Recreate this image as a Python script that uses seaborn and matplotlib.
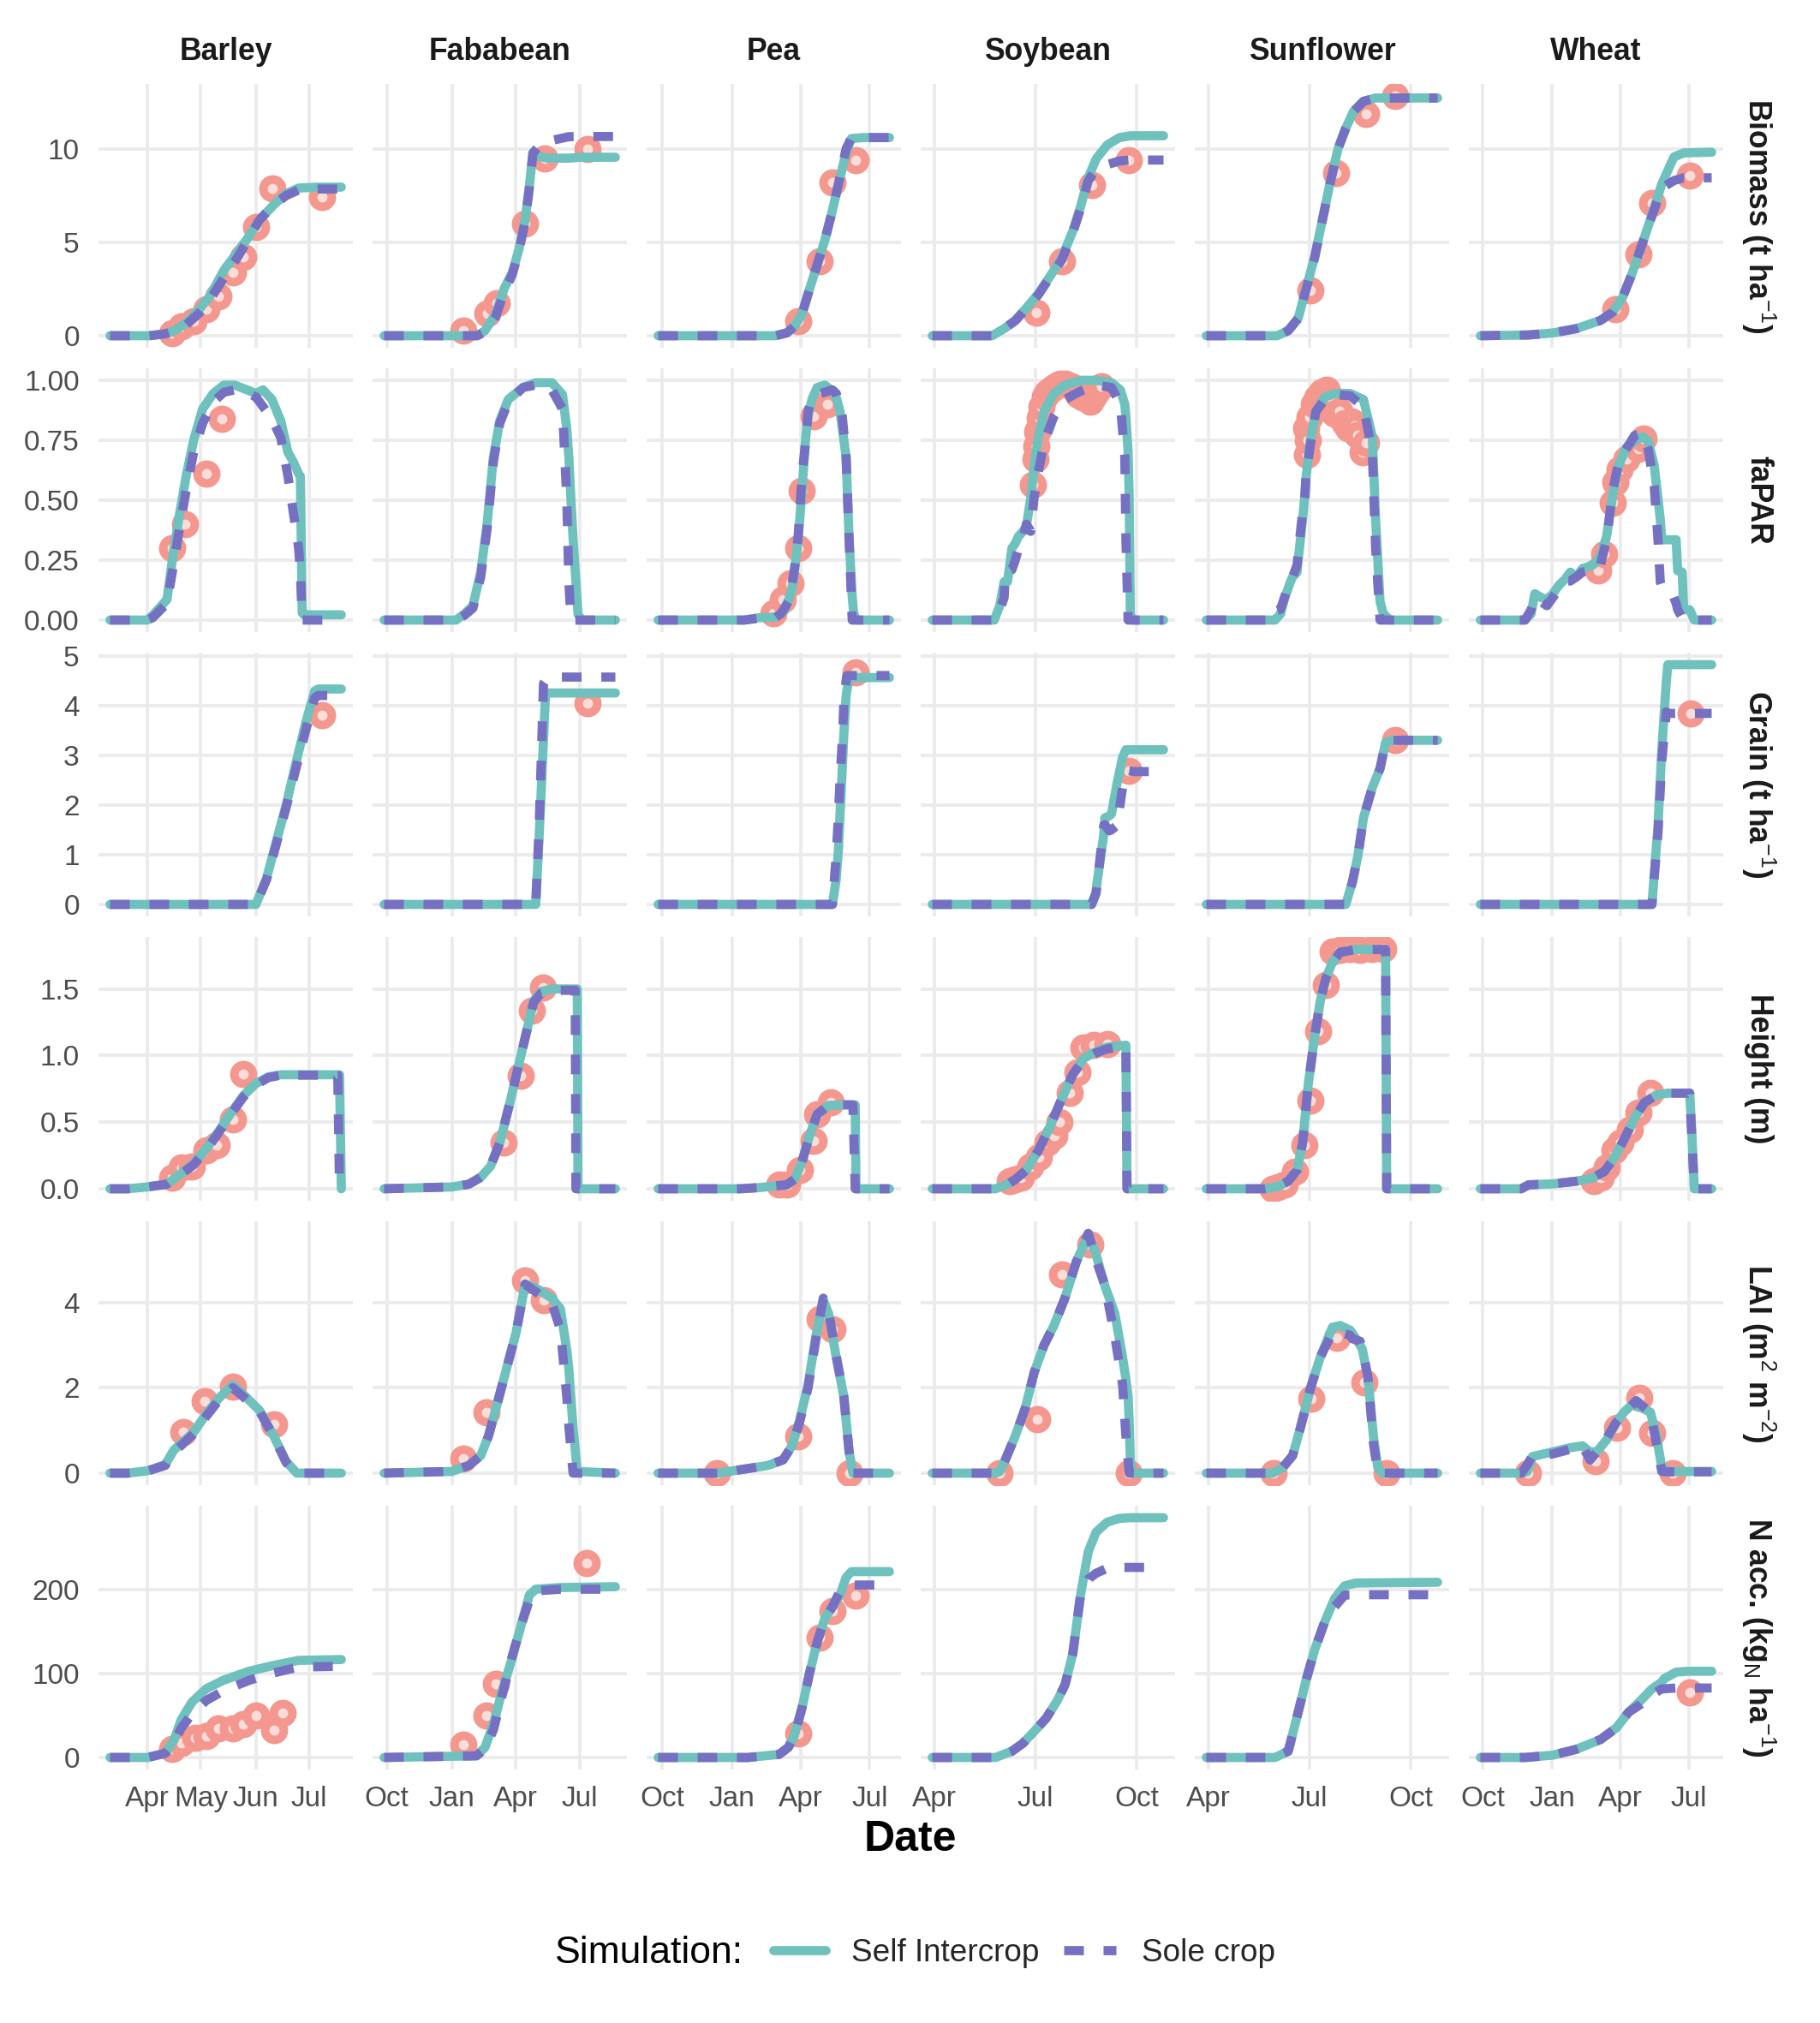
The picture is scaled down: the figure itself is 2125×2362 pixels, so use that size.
import numpy as np
import pandas as pd
import matplotlib
matplotlib.use("Agg")
import matplotlib.pyplot as plt
import matplotlib.dates as mdates
from matplotlib.lines import Line2D
import seaborn as sns

# ---- layout of the facet grid
crops = ["Barley", "Fababean", "Pea", "Soybean", "Sunflower", "Wheat"]
variables = ["biomass", "fapar", "grain", "height", "lai", "n"]
row_labels = ["Biomass (t ha$^{-1}$)", "faPAR", "Grain (t ha$^{-1}$)", "Height (m)",
              "LAI (m$^{2}$ m$^{-2}$)", "N acc. (kg$_{N}$ ha$^{-1}$)"]
sim_levels = ["Self Intercrop", "Sole crop"]

# seasons: month >= 9 belongs to the first year
season_years = {"Barley": (2017, 2017), "Fababean": (2006, 2007), "Pea": (2006, 2007),
                "Soybean": (2010, 2010), "Sunflower": (2010, 2010), "Wheat": (2006, 2007)}

# x ticks per column
barley_ticks = ["04-01", "05-01", "06-01", "07-01"]
fababean_ticks = ["10-01", "01-01", "04-01", "07-01"]
pea_ticks = ["10-01", "01-01", "04-01", "07-01"]
soybean_ticks = ["04-01", "07-01", "10-01"]
sunflower_ticks = ["04-01", "07-01", "10-01"]
wheat_ticks = ["10-01", "01-01", "04-01", "07-01"]

# y ticks per row
biomass_yticks = [0, 5, 10]
biomass_ylabels = ["0", "5", "10"]
fapar_yticks = [0, 0.25, 0.5, 0.75, 1.0]
fapar_ylabels = ["0.00", "0.25", "0.50", "0.75", "1.00"]
grain_yticks = [0, 1, 2, 3, 4, 5]
grain_ylabels = ["0", "1", "2", "3", "4", "5"]
height_yticks = [0, 0.5, 1.0, 1.5]
height_ylabels = ["0.0", "0.5", "1.0", "1.5"]
lai_yticks = [0, 2, 4]
lai_ylabels = ["0", "2", "4"]
n_yticks = [0, 100, 200]
n_ylabels = ["0", "100", "200"]

# ================= Barley =================
barley_biomass_dates = ["03-11", "04-02", "04-11", "04-16", "04-23", "04-30", "05-06", "05-14", "05-21", "05-28", "06-03", "06-11", "06-18", "06-25", "07-05", "07-19"]
barley_biomass_int = [0, 0, 0.1, 0.27, 0.7, 1.4, 2.1, 3.5, 4.4, 5.3, 6.2, 7.0, 7.6, 7.9, 7.95, 7.95]
barley_biomass_sole = [0, 0, 0.1, 0.25, 0.6, 1.2, 1.9, 3.1, 4.1, 5.2, 6.2, 7.0, 7.5, 7.8, 7.85, 7.85]
barley_biomass_obs_dates = ["04-15", "04-20", "04-27", "05-04", "05-11", "05-19", "05-25", "06-01", "06-10", "07-08"]
barley_biomass_obs = [0.15, 0.5, 0.8, 1.4, 2.1, 3.4, 4.2, 5.8, 7.9, 7.4]

barley_fapar_dates = ["03-11", "04-01", "04-04", "04-12", "04-15", "04-19", "04-23", "04-27", "05-02", "05-08", "05-14", "05-20", "05-27", "06-01", "06-05", "06-10", "06-15", "06-19", "06-22", "06-25", "06-26", "06-27", "06-28", "07-19"]
barley_fapar_int = [0, 0, 0.02, 0.086, 0.25, 0.44, 0.61, 0.75, 0.88, 0.945, 0.98, 0.98, 0.96, 0.945, 0.96, 0.92, 0.83, 0.70, 0.66, 0.61, 0.6, 0.03, 0.022, 0.022]
barley_fapar_sole = [0, 0, 0.01, 0.07, 0.2, 0.38, 0.55, 0.70, 0.82, 0.91, 0.95, 0.96, 0.95, 0.93, 0.89, 0.84, 0.76, 0.6, 0.45, 0.3, 0.2, 0, 0, 0]
barley_fapar_obs_dates = ["04-15", "04-22", "05-04", "05-13"]
barley_fapar_obs = [0.30, 0.40, 0.61, 0.84]

barley_grain_dates = ["03-11", "06-01", "06-07", "06-12", "06-18", "06-23", "06-29", "07-04", "07-06", "07-19"]
barley_grain_int = [0, 0, 0.53, 1.2, 2.0, 2.77, 3.65, 4.29, 4.33, 4.33]
barley_grain_sole = [0, 0, 0.5, 1.15, 1.95, 2.66, 3.5, 4.15, 4.2, 4.2]
barley_grain_obs_dates = ["07-08"]
barley_grain_obs = [3.8]

barley_height_dates = ["03-11", "03-21", "04-01", "04-12", "04-20", "04-27", "05-04", "05-11", "05-18", "05-25", "06-01", "06-08", "06-15", "07-17", "07-18", "07-19"]
barley_height_int = [0, 0, 0.014, 0.035, 0.115, 0.19, 0.30, 0.43, 0.57, 0.70, 0.79, 0.84, 0.856, 0.856, 0.856, 0]
barley_height_sole = [0, 0, 0.014, 0.035, 0.11, 0.18, 0.29, 0.42, 0.56, 0.69, 0.78, 0.835, 0.853, 0.853, 0, 0]
barley_height_obs_dates = ["04-15", "04-20", "04-26", "05-04", "05-10", "05-19", "05-25"]
barley_height_obs = [0.086, 0.16, 0.17, 0.29, 0.33, 0.52, 0.86]

barley_lai_dates = ["03-11", "03-21", "04-01", "04-11", "04-16", "04-20", "04-27", "05-04", "05-11", "05-19", "05-26", "06-03", "06-11", "06-18", "06-24", "07-19"]
barley_lai_int = [0, 0, 0.055, 0.2, 0.55, 0.69, 0.96, 1.38, 1.75, 2.07, 1.8, 1.47, 0.87, 0.27, 0, 0]
barley_lai_sole = [0, 0, 0.05, 0.18, 0.5, 0.65, 0.92, 1.33, 1.7, 2.0, 1.75, 1.45, 0.85, 0.25, 0, 0]
barley_lai_obs_dates = ["04-21", "05-03", "05-19", "06-11"]
barley_lai_obs = [0.96, 1.68, 2.03, 1.15]

barley_n_dates = ["03-11", "04-01", "04-11", "04-16", "04-20", "04-26", "05-04", "05-14", "05-28", "06-11", "06-25", "07-19"]
barley_n_int = [0, 0, 5, 21, 45, 66, 82, 92.5, 103, 110, 116, 117]
barley_n_sole = [0, 0, 5, 18, 35, 52, 68, 80, 92, 101, 108, 109]
barley_n_obs_dates = ["04-15", "04-20", "04-28", "05-04", "05-11", "05-19", "05-25", "06-01", "06-11", "06-16"]
barley_n_obs = [10, 17, 24, 26, 35, 35, 40, 50, 33, 53]

# ================= Fababean =================
fababean_biomass_dates = ["09-27", "02-06", "02-17", "03-04", "03-16", "03-28", "04-06", "04-15", "04-21", "04-26", "05-03", "05-17", "06-16", "07-04", "08-21"]
fababean_biomass_int = [0, 0, 0.27, 1.15, 2.5, 3.4, 4.6, 6.2, 8.0, 9.8, 9.6, 9.5, 9.5, 9.55, 9.55]
fababean_biomass_sole = [0, 0, 0.2, 1.0, 2.3, 3.3, 4.5, 6.1, 7.9, 9.75, 10.1, 10.4, 10.65, 10.66, 10.66]
fababean_biomass_obs_dates = ["01-17", "02-20", "03-06", "04-15", "05-13", "07-13"]
fababean_biomass_obs = [0.27, 1.2, 1.75, 6.0, 9.5, 10.0]

fababean_fapar_dates = ["09-27", "01-07", "01-19", "01-31", "02-11", "02-20", "03-01", "03-10", "03-22", "04-12", "04-30", "05-23", "06-07", "06-13", "06-16", "06-19", "06-22", "06-29", "07-04", "08-21"]
fababean_fapar_int = [0, 0, 0.026, 0.06, 0.2, 0.4, 0.68, 0.83, 0.92, 0.97, 0.99, 0.99, 0.94, 0.8, 0.68, 0.5, 0.34, 0.025, 0, 0]
fababean_fapar_sole = [0, 0, 0.02, 0.05, 0.18, 0.38, 0.66, 0.82, 0.91, 0.97, 0.98, 0.96, 0.88, 0.51, 0.16, 0, 0, 0, 0, 0]
fababean_fapar_obs_dates = []
fababean_fapar_obs = []

fababean_grain_dates = ["09-27", "04-30", "05-05", "05-08", "05-11", "05-14", "05-20", "08-21"]
fababean_grain_int = [0, 0, 1.4, 2.35, 3.3, 4.25, 4.25, 4.25]
fababean_grain_sole = [0, 0, 1.6, 3.0, 4.44, 4.5, 4.57, 4.57]
fababean_grain_obs_dates = ["07-13"]
fababean_grain_obs = [4.04]

fababean_height_dates = ["09-27", "01-01", "01-25", "02-11", "02-25", "03-10", "03-25", "04-09", "04-18", "04-27", "05-08", "05-23", "06-25", "06-26", "06-28", "06-29", "08-21"]
fababean_height_int = [0, 0.014, 0.034, 0.086, 0.17, 0.345, 0.66, 1.0, 1.2, 1.41, 1.48, 1.5, 1.5, 1.5, 1.5, 0, 0]
fababean_height_sole = [0, 0.014, 0.034, 0.086, 0.17, 0.345, 0.66, 1.0, 1.2, 1.4, 1.47, 1.49, 1.49, 0, 0, 0, 0]
fababean_height_obs_dates = ["03-15", "04-09", "04-25", "05-10"]
fababean_height_obs = [0.345, 0.85, 1.34, 1.51]

fababean_lai_dates = ["09-27", "01-01", "01-25", "02-11", "02-22", "03-06", "03-18", "04-02", "04-15", "04-30", "05-23", "06-04", "06-13", "06-16", "06-22", "06-28", "08-21"]
fababean_lai_int = [0, 0.04, 0.18, 0.41, 0.87, 1.6, 2.35, 3.28, 4.43, 4.34, 4.1, 3.85, 2.9, 2.44, 1.06, 0.04, 0]
fababean_lai_sole = [0, 0.04, 0.18, 0.41, 0.87, 1.6, 2.35, 3.28, 4.43, 4.25, 3.97, 3.37, 1.8, 1.1, 0, 0, 0]
fababean_lai_obs_dates = ["01-17", "02-19", "04-15", "05-11"]
fababean_lai_obs = [0.34, 1.42, 4.51, 4.06]

fababean_n_dates = ["09-27", "02-05", "02-17", "03-01", "03-13", "03-28", "04-09", "04-21", "04-30", "06-04", "08-21"]
fababean_n_int = [0, 2, 12, 40, 78, 120, 157, 194, 201, 203, 204]
fababean_n_sole = [0, 2, 10, 33, 73, 122, 157, 188, 199, 201, 201]
fababean_n_obs_dates = ["01-17", "02-19", "03-05", "07-11"]
fababean_n_obs = [15.4, 50, 88, 232]

# ================= Pea =================
pea_biomass_dates = ["09-26", "02-27", "03-14", "03-24", "04-03", "04-13", "04-23", "05-03", "05-13", "05-23", "05-31", "06-07", "06-22", "07-27"]
pea_biomass_int = [0, 0, 0.15, 0.5, 1.15, 2.5, 3.8, 5.1, 6.7, 8.45, 9.8, 10.55, 10.6, 10.6]
pea_biomass_sole = [0, 0, 0.15, 0.5, 1.15, 2.5, 3.8, 5.1, 6.7, 8.5, 10.0, 10.6, 10.6, 10.6]
pea_biomass_obs_dates = ["03-29", "04-26", "05-13", "06-12"]
pea_biomass_obs = [0.8, 4.0, 8.2, 9.4]

pea_fapar_dates = ["09-26", "01-17", "02-06", "02-27", "03-06", "03-11", "03-16", "03-21", "03-24", "03-29", "04-03", "04-08", "04-11", "04-16", "04-23", "05-03", "05-13", "05-18", "05-23", "05-26", "05-31", "06-04", "06-08", "06-10", "06-14", "07-27"]
pea_fapar_int = [0, 0, 0.01, 0.012, 0.025, 0.04, 0.08, 0.13, 0.2, 0.335, 0.54, 0.765, 0.85, 0.92, 0.97, 0.98, 0.955, 0.93, 0.87, 0.8, 0.68, 0.335, 0.1, 0.026, 0, 0]
pea_fapar_sole = [0, 0, 0.008, 0.01, 0.026, 0.05, 0.077, 0.15, 0.21, 0.35, 0.6, 0.75, 0.87, 0.93, 0.94, 0.95, 0.96, 0.945, 0.9, 0.85, 0.68, 0.335, 0, 0, 0, 0]
pea_fapar_obs_dates = ["02-24", "03-09", "03-19", "03-29", "04-03", "04-18", "05-06"]
pea_fapar_obs = [0.03, 0.086, 0.155, 0.30, 0.54, 0.85, 0.9]

pea_grain_dates = ["09-26", "05-13", "05-18", "05-21", "05-23", "05-26", "05-28", "05-31", "06-01", "06-04", "07-27"]
pea_grain_int = [0, 0, 0.5, 1.13, 1.8, 2.73, 3.4, 4.18, 4.3, 4.56, 4.56]
pea_grain_sole = [0, 0, 0.98, 1.8, 2.5, 3.3, 4.03, 4.5, 4.6, 4.6, 4.6]
pea_grain_obs_dates = ["06-12"]
pea_grain_obs = [4.67]

pea_height_dates = ["09-26", "01-12", "02-06", "03-14", "03-24", "04-03", "04-13", "04-23", "05-08", "05-26", "06-09", "06-12", "06-13", "07-27"]
pea_height_int = [0, 0, 0.009, 0.03, 0.07, 0.2, 0.4, 0.56, 0.626, 0.63, 0.63, 0.63, 0, 0]
pea_height_sole = [0, 0, 0.009, 0.03, 0.07, 0.2, 0.4, 0.56, 0.626, 0.63, 0.63, 0, 0, 0]
pea_height_obs_dates = ["03-04", "03-14", "03-31", "04-18", "04-23", "05-11"]
pea_height_obs = [0.03, 0.03, 0.14, 0.36, 0.56, 0.65]

pea_lai_dates = ["09-26", "12-13", "01-12", "02-17", "03-09", "03-21", "03-31", "04-11", "04-21", "05-01", "05-08", "05-18", "05-28", "06-04", "06-09", "07-27"]
pea_lai_int = [0, 0, 0.08, 0.18, 0.31, 0.64, 1.24, 2.07, 3.18, 4.06, 3.74, 2.72, 1.8, 0.5, 0, 0]
pea_lai_sole = [0, 0, 0.08, 0.18, 0.31, 0.64, 1.2, 2.0, 3.1, 4.1, 3.8, 2.75, 1.8, 0.5, 0, 0]
pea_lai_obs_dates = ["12-12", "03-29", "04-26", "05-13", "06-05"]
pea_lai_obs = [0, 0.87, 3.62, 3.37, 0]

pea_n_dates = ["09-26", "01-22", "03-04", "03-16", "03-24", "04-03", "04-13", "04-23", "05-03", "05-13", "05-23", "05-31", "06-07", "07-27"]
pea_n_int = [0, 0, 3.7, 12, 26, 59, 101, 138, 166, 180, 194, 215, 222, 222]
pea_n_sole = [0, 0, 3.7, 12, 26, 59, 101, 138, 166, 180, 199, 205, 206, 206]
pea_n_obs_dates = ["03-29", "04-26", "05-13", "06-12"]
pea_n_obs = [28.5, 143, 175, 193]

# ================= Soybean =================
soybean_biomass_dates = ["03-30", "05-23", "06-03", "06-13", "06-23", "07-04", "07-14", "07-25", "08-04", "08-11", "08-18", "08-25", "09-04", "09-15", "09-25", "10-25"]
soybean_biomass_int = [0, 0, 0.38, 0.82, 1.48, 2.26, 3.14, 4.14, 5.6, 6.9, 8.45, 9.45, 10.2, 10.6, 10.7, 10.7]
soybean_biomass_sole = [0, 0, 0.38, 0.8, 1.45, 2.2, 3.1, 4.05, 5.5, 6.8, 8.3, 8.9, 9.15, 9.35, 9.4, 9.4]
soybean_biomass_obs_dates = ["07-02", "07-25", "08-21", "09-24"]
soybean_biomass_obs = [1.22, 4.0, 8.05, 9.4]

soybean_fapar_dates = ["03-30", "05-25", "05-30", "06-03", "06-04", "06-06", "06-10", "06-13", "06-16", "06-20", "06-23", "06-27", "06-30", "07-04", "07-09", "07-18", "07-28", "08-11", "08-25", "09-08", "09-16", "09-20", "09-21", "09-23", "09-24", "09-25", "09-27", "10-25"]
soybean_fapar_int = [0, 0, 0.06, 0.16, 0.16, 0.16, 0.3, 0.32, 0.35, 0.37, 0.39, 0.51, 0.64, 0.765, 0.87, 0.945, 0.98, 1.0, 1.0, 0.99, 0.96, 0.9, 0.85, 0.7, 0.51, 0.026, 0, 0]
soybean_fapar_sole = [0, 0, 0.04, 0.095, 0.2, 0.2, 0.21, 0.25, 0.3, 0.335, 0.4, 0.37, 0.51, 0.62, 0.74, 0.85, 0.92, 0.955, 0.98, 0.97, 0.9, 0.68, 0.335, 0, 0, 0, 0, 0]
soybean_fapar_obs_dates = ["06-29", "07-01", "07-02", "07-03", "07-04", "07-05", "07-07", "07-10", "07-12", "07-15", "07-18", "07-21", "07-24", "07-28", "08-03", "08-06", "08-09", "08-13", "08-16", "08-18", "08-20", "08-22", "08-25", "08-30"]
soybean_fapar_obs = [0.566, 0.67, 0.726, 0.785, 0.80, 0.844, 0.891, 0.933, 0.95, 0.962, 0.97, 0.98, 0.985, 0.986, 0.974, 0.96, 0.939, 0.93, 0.927, 0.92, 0.91, 0.93, 0.95, 0.974]

soybean_grain_dates = ["03-30", "08-21", "08-25", "08-26", "09-01", "09-02", "09-06", "09-08", "09-13", "09-18", "09-21", "09-23", "09-28", "10-25"]
soybean_grain_int = [0, 0, 0.25, 0.45, 1.4, 1.74, 1.78, 1.82, 2.43, 2.96, 3.11, 3.11, 3.11, 3.11]
soybean_grain_sole = [0, 0, 0.22, 0.4, 1.59, 1.6, 1.48, 1.5, 1.59, 2.35, 2.6, 2.69, 2.67, 2.67]
soybean_grain_obs_dates = ["09-24"]
soybean_grain_obs = [2.68]

soybean_height_dates = ["03-30", "05-26", "06-06", "06-13", "06-23", "07-04", "07-14", "07-25", "08-04", "08-14", "08-25", "09-04", "09-21", "09-22", "10-25"]
soybean_height_int = [0, 0, 0.034, 0.07, 0.14, 0.29, 0.46, 0.675, 0.86, 0.98, 1.03, 1.063, 1.078, 0, 0]
soybean_height_sole = [0, 0, 0.034, 0.07, 0.14, 0.29, 0.46, 0.675, 0.86, 0.97, 1.02, 1.05, 1.07, 0, 0]
soybean_height_obs_dates = ["06-08", "06-13", "06-18", "06-27", "07-04", "07-12", "07-18", "07-23", "08-01", "08-08", "08-14", "08-23", "09-04"]
soybean_height_obs = [0.057, 0.07, 0.086, 0.17, 0.24, 0.345, 0.40, 0.50, 0.72, 0.876, 1.063, 1.078, 1.086]

soybean_lai_dates = ["03-30", "05-26", "05-30", "06-04", "06-13", "06-22", "06-30", "07-09", "07-18", "07-28", "08-07", "08-18", "08-25", "09-02", "09-11", "09-18", "09-21", "09-23", "09-24", "09-25", "09-27", "10-25"]
soybean_lai_int = [0, 0, 0.04, 0.31, 0.87, 1.52, 2.35, 3.0, 3.46, 4.11, 4.94, 5.59, 5.13, 4.39, 3.74, 2.72, 2.2, 1.8, 1.2, 0.31, 0, 0]
soybean_lai_sole = [0, 0, 0.04, 0.31, 0.87, 1.52, 2.35, 3.0, 3.46, 4.11, 4.94, 5.62, 5.0, 4.4, 3.2, 2.07, 0.87, 0.3, 0, 0, 0, 0]
soybean_lai_obs_dates = ["05-30", "07-03", "07-25", "08-20", "09-24"]
soybean_lai_obs = [0, 1.27, 4.65, 5.36, 0]

soybean_n_dates = ["03-30", "05-26", "06-10", "06-20", "06-30", "07-11", "07-21", "07-28", "08-04", "08-11", "08-18", "08-25", "09-04", "09-15", "09-25", "10-25"]
soybean_n_int = [0, 0, 7.5, 17, 31, 47, 68, 87, 124, 194, 246, 269, 281, 285.5, 286.4, 286.4]
soybean_n_sole = [0, 0, 7.5, 17, 31, 47, 68, 87, 124, 194, 213, 220, 226, 227, 227, 227]
soybean_n_obs_dates = []
soybean_n_obs = []

# ================= Sunflower =================
sunflower_biomass_dates = ["03-30", "06-02", "06-12", "06-21", "06-28", "07-06", "07-13", "07-20", "07-27", "08-03", "08-10", "08-19", "08-30", "09-17", "10-25"]
sunflower_biomass_int = [0, 0, 0.27, 0.93, 2.48, 4.25, 6.24, 8.23, 10.0, 11.1, 12.0, 12.54, 12.72, 12.72, 12.72]
sunflower_biomass_sole = [0, 0, 0.27, 0.93, 2.45, 4.2, 6.2, 8.2, 10.0, 11.1, 12.0, 12.54, 12.72, 12.72, 12.72]
sunflower_biomass_obs_dates = ["07-02", "07-25", "08-21", "09-17"]
sunflower_biomass_obs = [2.41, 8.72, 11.88, 12.83]

sunflower_fapar_dates = ["03-30", "05-31", "06-02", "06-05", "06-09", "06-11", "06-14", "06-16", "06-20", "06-21", "06-25", "06-27", "06-28", "07-02", "07-07", "07-15", "07-25", "08-07", "08-19", "08-27", "08-30", "09-03", "09-06", "09-12", "10-25"]
sunflower_fapar_int = [0, 0, 0.01, 0.026, 0.095, 0.12, 0.16, 0.18, 0.2, 0.25, 0.42, 0.52, 0.59, 0.75, 0.87, 0.93, 0.945, 0.945, 0.92, 0.765, 0.42, 0.077, 0.026, 0, 0]
sunflower_fapar_sole = [0, 0, 0.04, 0.045, 0.1, 0.13, 0.16, 0.18, 0.23, 0.28, 0.45, 0.51, 0.6, 0.73, 0.87, 0.92, 0.94, 0.935, 0.89, 0.7, 0.3, 0, 0, 0, 0]
sunflower_fapar_obs_dates = ["06-28", "06-29", "06-30", "07-01", "07-05", "07-08", "07-12", "07-17", "07-21", "07-24", "07-28", "08-02", "08-05", "08-08", "08-11", "08-14", "08-18", "08-21"]
sunflower_fapar_obs = [0.80, 0.69, 0.75, 0.845, 0.90, 0.93, 0.95, 0.96, 0.93, 0.86, 0.87, 0.82, 0.80, 0.83, 0.81, 0.77, 0.70, 0.74]

sunflower_grain_dates = ["03-30", "08-03", "08-09", "08-14", "08-19", "08-27", "09-03", "09-08", "09-14", "10-25"]
sunflower_grain_int = [0, 0, 0.45, 0.98, 1.74, 2.35, 2.73, 3.26, 3.3, 3.3]
sunflower_grain_sole = [0, 0, 0.45, 0.98, 1.74, 2.35, 2.73, 3.26, 3.3, 3.3]
sunflower_grain_obs_dates = ["09-17"]
sunflower_grain_obs = [3.3]

sunflower_height_dates = ["03-30", "05-22", "06-02", "06-12", "06-20", "06-25", "06-30", "07-06", "07-11", "07-16", "07-22", "07-29", "08-12", "09-08", "09-09", "10-25"]
sunflower_height_int = [0, 0, 0.014, 0.057, 0.14, 0.345, 0.776, 1.15, 1.41, 1.58, 1.70, 1.776, 1.796, 1.796, 0, 0]
sunflower_height_sole = [0, 0, 0.014, 0.057, 0.14, 0.345, 0.776, 1.15, 1.41, 1.58, 1.70, 1.776, 1.796, 1.796, 0, 0]
sunflower_height_obs_dates = ["05-29", "06-03", "06-09", "06-18", "06-27", "07-02", "07-09", "07-16", "07-22", "07-29", "08-07", "08-16", "08-27", "09-06"]
sunflower_height_obs = [0, 0.014, 0.03, 0.13, 0.33, 0.66, 1.18, 1.53, 1.78, 1.796, 1.8, 1.796, 1.8, 1.8]

sunflower_lai_dates = ["03-30", "05-29", "06-07", "06-16", "06-23", "07-02", "07-11", "07-22", "07-29", "08-07", "08-09", "08-16", "08-18", "08-23", "08-28", "09-01", "09-05", "10-25"]
sunflower_lai_int = [0, 0, 0.13, 0.41, 1.06, 1.98, 2.72, 3.42, 3.46, 3.35, 3.28, 3.0, 2.9, 2.26, 0.87, 0.13, 0, 0]
sunflower_lai_sole = [0, 0, 0.13, 0.41, 1.06, 1.98, 2.72, 3.3, 3.3, 3.23, 3.15, 3.09, 2.9, 2.26, 0.7, 0, 0, 0]
sunflower_lai_obs_dates = ["05-30", "07-03", "07-26", "08-20", "09-09"]
sunflower_lai_obs = [0, 1.75, 3.17, 2.12, 0]

sunflower_n_dates = ["03-30", "05-31", "06-12", "06-21", "06-28", "07-06", "07-15", "07-24", "08-02", "08-12", "10-25"]
sunflower_n_int = [0, 0, 7.5, 54, 91.6, 129, 162, 190, 205, 208.4, 209.3]
sunflower_n_sole = [0, 0, 7.5, 54, 91.6, 129, 162, 180, 194, 194.4, 194.4]
sunflower_n_obs_dates = []
sunflower_n_obs = []

# ================= Wheat =================
wheat_biomass_dates = ["09-28", "12-01", "01-02", "02-02", "03-06", "03-22", "04-04", "04-17", "04-30", "05-13", "05-26", "06-11", "06-24", "07-31"]
wheat_biomass_int = [0, 0.04, 0.15, 0.38, 0.82, 1.26, 2.04, 3.36, 4.9, 6.46, 8.12, 9.56, 9.78, 9.82]
wheat_biomass_sole = [0, 0.04, 0.15, 0.38, 0.82, 1.26, 2.04, 3.36, 4.9, 6.4, 7.9, 8.3, 8.45, 8.45]
wheat_biomass_obs_dates = ["03-26", "04-25", "05-13", "07-02"]
wheat_biomass_obs = [1.42, 4.36, 7.12, 8.56]

wheat_fapar_dates = ["09-28", "11-26", "12-04", "12-09", "12-17", "12-25", "01-02", "01-10", "01-18", "01-25", "02-02", "02-10", "02-18", "02-25", "03-06", "03-14", "03-22", "03-30", "04-09", "04-20", "04-30", "05-08", "05-16", "05-21", "05-24", "05-26", "05-29", "06-09", "06-14", "06-16", "06-22", "06-24", "07-02", "07-08", "07-31"]
wheat_fapar_int = [0, 0, 0.026, 0.11, 0.095, 0.086, 0.11, 0.146, 0.17, 0.2, 0.18, 0.215, 0.223, 0.232, 0.266, 0.35, 0.52, 0.644, 0.72, 0.747, 0.765, 0.747, 0.644, 0.507, 0.42, 0.335, 0.335, 0.335, 0.335, 0.206, 0.2, 0.043, 0.043, 0, 0]
wheat_fapar_sole = [0, 0, 0.043, 0.095, 0.077, 0.06, 0.095, 0.13, 0.163, 0.163, 0.18, 0.2, 0.206, 0.2, 0.232, 0.335, 0.54, 0.66, 0.713, 0.77, 0.78, 0.713, 0.558, 0.335, 0.16, 0.14, 0.13, 0.11, 0.07, 0.043, 0.01, 0, 0, 0, 0]
wheat_fapar_obs_dates = ["03-03", "03-11", "03-22", "03-26", "03-31", "04-09", "04-25", "05-02"]
wheat_fapar_obs = [0.206, 0.275, 0.49, 0.576, 0.627, 0.67, 0.713, 0.756]

wheat_grain_dates = ["09-28", "05-13", "05-21", "05-26", "06-01", "06-03", "06-06", "07-31"]
wheat_grain_int = [0, 0, 1.59, 3.11, 4.48, 4.82, 4.82, 4.82]
wheat_grain_sole = [0, 0, 1.44, 2.88, 3.87, 3.84, 3.84, 3.84]
wheat_grain_obs_dates = ["07-03"]
wheat_grain_obs = [3.84]

wheat_height_dates = ["09-28", "11-21", "12-01", "01-02", "02-02", "02-23", "03-11", "03-24", "04-06", "04-20", "05-03", "05-19", "06-03", "07-02", "07-05", "07-08", "07-31"]
wheat_height_int = [0, 0, 0.03, 0.037, 0.057, 0.08, 0.13, 0.23, 0.37, 0.53, 0.647, 0.704, 0.718, 0.718, 0.4, 0, 0]
wheat_height_sole = [0, 0, 0.03, 0.037, 0.057, 0.08, 0.13, 0.23, 0.37, 0.53, 0.647, 0.704, 0.718, 0.718, 0.35, 0, 0]
wheat_height_obs_dates = ["02-25", "03-06", "03-14", "03-24", "04-01", "04-14", "04-25", "05-11"]
wheat_height_obs = [0.057, 0.086, 0.158, 0.287, 0.345, 0.445, 0.575, 0.718]

wheat_lai_dates = ["09-28", "11-21", "11-29", "12-06", "01-02", "01-23", "02-10", "02-20", "03-01", "03-14", "03-27", "04-06", "04-17", "04-22", "04-30", "05-11", "05-19", "05-26", "06-03", "06-09", "07-31"]
wheat_lai_int = [0, 0, 0.04, 0.39, 0.5, 0.59, 0.64, 0.5, 0.5, 0.78, 1.19, 1.43, 1.61, 1.58, 1.52, 1.43, 0.87, 0.13, 0.04, 0.04, 0.04]
wheat_lai_sole = [0, 0, 0.2, 0.41, 0.45, 0.55, 0.64, 0.31, 0.5, 0.82, 1.2, 1.4, 1.6, 1.7, 1.58, 1.43, 0.69, 0.04, 0.03, 0.03, 0.03]
wheat_lai_obs_dates = ["11-30", "02-27", "03-28", "04-26", "05-13", "06-10"]
wheat_lai_obs = [0, 0.29, 1.07, 1.77, 0.94, 0]

wheat_n_dates = ["09-28", "11-26", "01-02", "02-02", "03-06", "03-27", "04-12", "04-28", "05-13", "05-26", "05-29", "06-14", "06-30", "07-31"]
wheat_n_int = [0, 0, 2.8, 9.8, 21.5, 35.5, 54, 68, 82, 90, 94, 102, 103, 103]
wheat_n_sole = [0, 0, 2.8, 9.8, 21.5, 35.5, 54, 63.5, 75, 82, 82, 83, 83, 83]
wheat_n_obs_dates = ["07-02"]
wheat_n_obs = [77.6]

# ---- colours
teal = "#6FC1BE"
purple = "#7570C2"
obs_edge = "#F4978E"
obs_face = "#FADCD8"
pal = {"Self Intercrop": teal, "Sole crop": purple}
dash_map = {"Self Intercrop": "", "Sole crop": (2.15, 2.15)}
line_w = 3.85


def to_dates(crop, mmdd):
    y0, y1 = season_years[crop]
    return pd.to_datetime([f"{y0 if int(s[:2]) >= 9 else y1}-{s}" for s in mmdd])


sns.set_theme(style="white")
plt.rcParams["font.family"] = ["Liberation Sans", "DejaVu Sans"]
plt.rcParams["mathtext.fontset"] = "custom"
plt.rcParams["mathtext.rm"] = "Liberation Sans"
plt.rcParams["mathtext.it"] = "Liberation Sans:italic"
plt.rcParams["mathtext.bf"] = "Liberation Sans:bold"
plt.rcParams["mathtext.default"] = "rm"

fig, axes = plt.subplots(6, 6, figsize=(2125 / 200, 2362 / 200), dpi=200,
                         sharex="col", sharey="row")
fig.subplots_adjust(left=115 / 2125, right=2012 / 2125, top=1 - 98 / 2362,
                    bottom=1 - 2066 / 2362, wspace=0.0774, hspace=0.078)

for i, var in enumerate(variables):
    for j, crop in enumerate(crops):
        ax = axes[i, j]
        key = f"{crop.lower()}_{var}"
        d = to_dates(crop, globals()[key + "_dates"])
        v_int = globals()[key + "_int"]
        v_sole = globals()[key + "_sole"]
        sim = pd.DataFrame({
            "Date": np.concatenate([d.values, d.values]),
            "value": list(v_int) + list(v_sole),
            "Simulation": [sim_levels[0]] * len(d) + [sim_levels[1]] * len(d),
        })
        od = globals()[key + "_obs_dates"]
        if len(od):
            sns.scatterplot(x=to_dates(crop, od), y=globals()[key + "_obs"], ax=ax,
                            marker="o", s=62, color=obs_face, edgecolor=obs_edge,
                            linewidth=3.6, legend=False, zorder=1)
        sns.lineplot(data=sim, x="Date", y="value", hue="Simulation", style="Simulation",
                     palette=pal, dashes=dash_map, hue_order=sim_levels,
                     style_order=sim_levels, linewidth=line_w, estimator=None,
                     legend=False, ax=ax)
        ax.set_xlabel("")
        ax.set_ylabel("")
        ax.grid(True, color="#EBEBEB", linewidth=1.4)
        ax.set_axisbelow(True)
        for sp in ax.spines.values():
            sp.set_visible(False)
        ax.tick_params(axis="both", length=0, labelsize=12, labelcolor="#4D4D4D")
        ax.tick_params(axis="x", pad=7)
        ax.tick_params(axis="y", pad=8)

# ticks (set after plotting so autoscaling has all the data)
for j, crop in enumerate(crops):
    ticks = to_dates(crop, globals()[crop.lower() + "_ticks"])
    axes[5, j].set_xticks(mdates.date2num(ticks.to_pydatetime()))
    axes[5, j].xaxis.set_major_formatter(mdates.DateFormatter("%b"))
    axes[0, j].text(0.5, 1 + 38 / 308, crop, transform=axes[0, j].transAxes,
                    ha="center", va="center", fontsize=12.8, fontweight="bold",
                    color="#1A1A1A")

for i, var in enumerate(variables):
    axes[i, 0].set_yticks(globals()[var + "_yticks"], globals()[var + "_ylabels"])
    axes[i, 5].text(1 + 41 / 297, 0.5, row_labels[i], transform=axes[i, 5].transAxes,
                    ha="center", va="center", rotation=-90, fontsize=12.8,
                    fontweight="bold", color="#1A1A1A")

fig.text(1063 / 2125, 1 - 2148 / 2362, "Date", ha="center", va="center",
         fontsize=18, fontweight="bold", color="black")

handles = [Line2D([], [], color=teal, lw=line_w),
           Line2D([], [], color=purple, lw=line_w, dashes=(2.15, 2.15))]
fig.text(648 / 2125, 1 - 2280 / 2362, "Simulation:", ha="left", va="center",
         fontsize=16, color="black")
fig.legend(handles, sim_levels, loc="center left", bbox_to_anchor=(903 / 2125, 1 - 2280 / 2362),
           ncol=2, frameon=False, fontsize=13.3, handlelength=1.65, handletextpad=0.8,
           columnspacing=0.8, borderpad=0, borderaxespad=0)

fig.savefig("out.png", dpi=200)
